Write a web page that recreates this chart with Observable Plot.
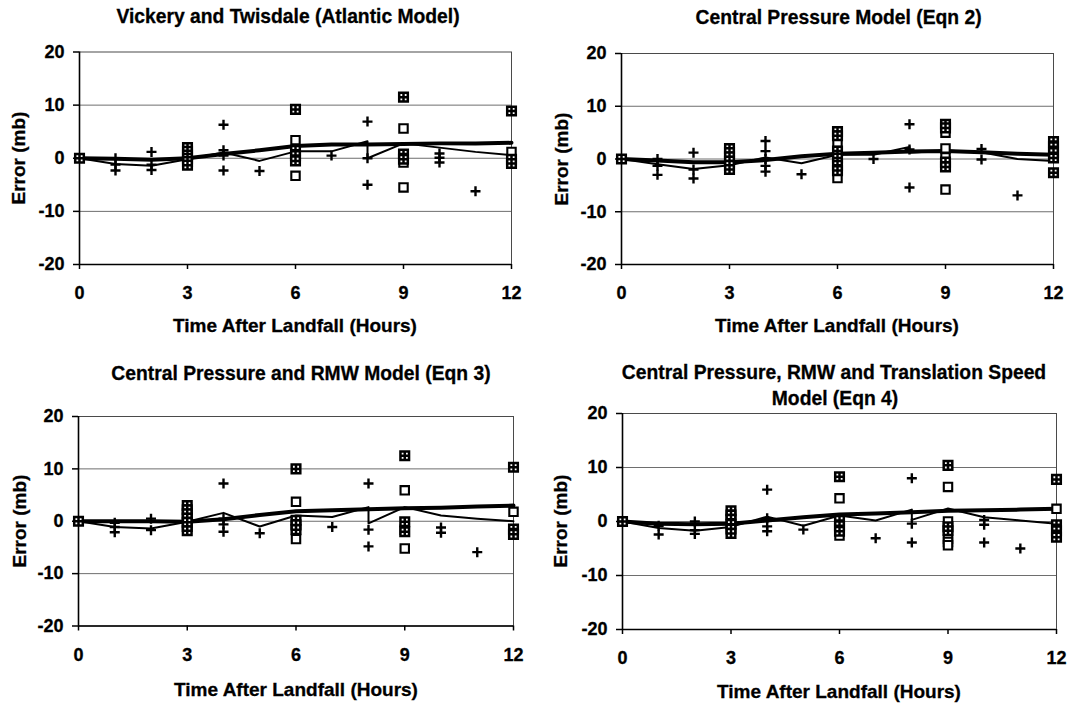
<!DOCTYPE html>
<html><head><meta charset="utf-8">
<script src="https://cdn.jsdelivr.net/npm/d3@7"></script>
<script src="https://cdn.jsdelivr.net/npm/@observablehq/plot@0.6"></script>
<style>
body{margin:0;background:#fff;}
#root{position:relative;width:1070px;height:703px;overflow:hidden;background:#fff;font-family:"Liberation Sans",Arial,sans-serif;font-weight:bold;color:#000;}
.panel{position:absolute;}
.t{position:absolute;white-space:nowrap;transform:translate(-50%,-50%);line-height:1;-webkit-text-stroke:0.3px #000;}
.yt{transform:translate(-50%,-50%) rotate(-90deg);}
.panel svg text{stroke:#000;stroke-width:0.3px;}
</style></head><body><div id="root"></div>
<script>
// ---------- data ----------
const hours = [0,1,2,3,4,5,6,7,8,9,10,11,12];
const thinHours = [0,1,2,3,4,5,6,7,8,8,9,10,11,12];
const xDomain = [0,12];
const yDomain = [-20,20];
const xTicks = [0,3,6,9,12];
const yTicks = [-20,-10,0,10,20];
const gridTicks = [-10,0,10];
const titles = [
  ["Vickery and Twisdale (Atlantic Model)"],
  ["Central Pressure Model (Eqn 2)"],
  ["Central Pressure and RMW Model (Eqn 3)"],
  ["Central Pressure, RMW and Translation Speed","Model (Eqn 4)"]
];
const xTitle = "Time After Landfall (Hours)";
const yTitle = "Error (mb)";

// Panel 1: Vickery and Twisdale
const vtThick = [0,-0.1,-0.3,0,0.8,1.5,2.3,2.6,2.6,2.7,2.8,2.8,2.9];
const vtThin  = [0,-1.1,-1.4,-0.2,1.1,-0.5,1.3,1.3,3.2,0,2.8,2.0,1.2,0.6];
const vtCross = [[1,0],[1,-1.2],[1,-2.3],[2,1.2],[2,-1.2],[2,-2.2],[4,6.3],[4,1.5],[4,0.5],[4,-2.3],[5,-2.4],[7,0.5],[8,6.9],[8,0],[8,-5.0],[10,0.9],[10,0.1],[10,-0.8],[11,-6.2]];
const vtOpen  = [[6,3.4],[6,-3.3],[9,5.6],[9,-0.8],[9,-5.5],[12,1.2]];
const vtGrid  = [[0,0],[3,2.0],[3,1.3],[3,0.6],[3,0],[3,-0.6],[3,-1.3],[6,9.2],[6,1.5],[6,0.5],[6,-0.5],[9,11.5],[9,0.8],[9,-0.2],[12,8.9],[12,-0.2],[12,-1.0]];

// Panel 2: Central Pressure (Eqn 2)
const cpThick = [0,-0.3,-0.6,-0.6,-0.2,0.5,1.0,1.2,1.4,1.5,1.3,1.0,0.8];
const cpThin  = [0,-1.0,-1.9,-1.2,0.3,-0.8,0.8,0.8,2.3,1.2,1.6,1.3,0,-0.4];
const cpCross = [[1,0],[1,-1.3],[1,-3.0],[2,1.2],[2,-2.0],[2,-3.7],[4,3.4],[4,1.5],[4,0],[4,-1.3],[4,-2.4],[5,-2.9],[7,0],[8,6.6],[8,1.8],[8,-5.4],[10,1.9],[10,-0.1],[11,-6.9]];
const cpOpen  = [[6,3.1],[6,-3.6],[9,5.0],[9,2.0],[9,0.3],[9,-5.8],[12,0.6]];
const cpGrid  = [[0,0],[3,2.0],[3,1.2],[3,0.4],[3,-0.4],[3,-1.2],[3,-2.0],[6,5.2],[6,4.4],[6,1.5],[6,0.2],[6,-1.2],[6,-2.2],[9,6.6],[9,5.9],[9,-0.6],[9,-1.5],[12,3.3],[12,2.3],[12,1.2],[12,0.2],[12,-2.6]];

// Panel 3: Central Pressure and RMW (Eqn 3)
const rmThick = [0,0,0,-0.1,0.4,1.2,1.9,2.1,2.3,2.5,2.6,2.8,3.0];
const rmThin  = [0,-1.1,-1.4,-0.1,1.6,-1.0,1.1,0.8,2.7,-0.4,2.7,1.1,0.5,0];
const rmCross = [[1,-0.3],[1,-1.1],[1,-2.1],[2,0.5],[2,-1.7],[4,7.2],[4,0.5],[4,-0.6],[4,-2.0],[5,-2.3],[7,-1.1],[8,7.2],[8,-1.6],[8,-4.8],[10,-1.2],[10,-2.2],[11,-5.9]];
const rmOpen  = [[6,3.7],[6,-3.4],[9,5.9],[9,-1.6],[9,-5.2],[12,1.8]];
const rmGrid  = [[0,0],[3,3.0],[3,2.2],[3,1.4],[3,0.6],[3,-0.2],[3,-1.0],[3,-1.8],[6,10.0],[6,0.2],[6,-0.7],[6,-1.6],[9,12.5],[9,-0.1],[9,-2.0],[12,10.3],[12,-1.5],[12,-2.5]];

// Panel 4: Central Pressure, RMW and Translation Speed (Eqn 4)
const tsThick = [0,-0.4,-0.5,-0.4,0.2,0.8,1.3,1.5,1.7,2.0,2.1,2.2,2.35];
const tsThin  = [0,-1.2,-1.7,-1.0,0.9,-0.8,1.1,0.2,2.2,0.3,2.4,0.8,0.2,-0.4];
const tsCross = [[1,-0.8],[1,-2.4],[2,0],[2,-1.6],[2,-2.3],[4,5.9],[4,0.6],[4,-0.9],[4,-1.8],[5,-1.5],[7,-3.1],[8,8.0],[8,-0.4],[8,-3.9],[10,0.3],[10,-0.6],[10,-3.9],[11,-5.0]];
const tsOpen  = [[6,4.3],[6,-2.6],[9,6.4],[9,0],[9,-3.2],[9,-3.8],[9,-4.4],[12,2.35]];
const tsGrid  = [[0,0],[3,2.0],[3,1.2],[3,0.4],[3,-0.5],[3,-1.4],[3,-2.2],[6,8.3],[6,0.2],[6,-0.8],[6,-1.8],[9,10.4],[9,-1.0],[9,-1.7],[12,7.8],[12,-0.6],[12,-1.7],[12,-2.9]];

const panelData = [
  {thick: vtThick, thin: vtThin, cross: vtCross, open: vtOpen, grid: vtGrid},
  {thick: cpThick, thin: cpThin, cross: cpCross, open: cpOpen, grid: cpGrid},
  {thick: rmThick, thin: rmThin, cross: rmCross, open: rmOpen, grid: rmGrid},
  {thick: tsThick, thin: tsThin, cross: tsCross, open: tsOpen, grid: tsGrid}
];

// ---------- layout ----------
const layout = [
  {left:0,   top:0,   w:535, h:310, ml:79, mr:24, mt:51.5, mb:46,  title:[[288,17]],            xt:[295,325], yt:[18.3,158]},
  {left:535, top:0,   w:535, h:310, ml:86, mr:17, mt:53,   mb:46,  title:[[838.6,18]],          xt:[837,325], yt:[560.6,158.5]},
  {left:0,   top:351, w:535, h:320, ml:78, mr:22, mt:65,   mb:45.5,title:[[301,374.3]],         xt:[296,689], yt:[18.8,521]},
  {left:535, top:351, w:535, h:325, ml:87, mr:14, mt:62,   mb:47,  title:[[834,372.7],[835,399.3]], xt:[839,691], yt:[560,521]}
];

// ---------- symbols ----------
const rad = s => Math.sqrt(s / Math.PI);
const symCross = {draw(c, s){const r = rad(s); c.moveTo(-r,0); c.lineTo(r,0); c.moveTo(0,-r); c.lineTo(0,r);}};
const symSquare = {draw(c, s){const r = rad(s); c.moveTo(-r,-r); c.lineTo(r,-r); c.lineTo(r,r); c.lineTo(-r,r); c.closePath();}};
const symGrid = {draw(c, s){const r = rad(s); c.moveTo(-r,-r); c.lineTo(r,-r); c.lineTo(r,r); c.lineTo(-r,r); c.closePath(); c.moveTo(-r,0); c.lineTo(r,0); c.moveTo(0,-r); c.lineTo(0,r);}};

const root = document.getElementById("root");
const pts = a => a.map(([h, v]) => ({h, v}));

panelData.forEach((d, k) => {
  const L = layout[k];
  const thick = hours.map((h, i) => ({h, v: d.thick[i]}));
  const thin = thinHours.map((h, i) => ({h, v: d.thin[i]}));
  const svg = Plot.plot({
    width: L.w, height: L.h,
    marginLeft: L.ml, marginRight: L.mr, marginTop: L.mt, marginBottom: L.mb,
    style: {fontFamily: "'Liberation Sans', Arial, sans-serif", fontSize: "18px", fontWeight: "bold", color: "#000", background: "transparent", overflow: "visible"},
    x: {domain: xDomain},
    y: {domain: yDomain},
    marks: [
      Plot.frame({stroke: "#4a4a4a", strokeWidth: 1}),
      Plot.gridY({ticks: gridTicks, stroke: "#6e6e6e", strokeOpacity: 1, strokeWidth: 1}),
      Plot.line(thick, {x: "h", y: "v", stroke: "#000", strokeWidth: 4}),
      Plot.line(thin, {x: "h", y: "v", stroke: "#000", strokeWidth: 2}),
      Plot.ruleX([xDomain[0]], {stroke: "#000", strokeWidth: 1.6}),
      Plot.ruleY([yDomain[0]], {stroke: "#000", strokeWidth: 1.6}),
      Plot.dot(pts(d.cross), {x: "h", y: "v", symbol: symCross, r: 5, fill: "none", stroke: "#000", strokeWidth: 2.4}),
      Plot.dot(pts(d.open), {x: "h", y: "v", symbol: symSquare, r: 4.2, fill: "#fff", stroke: "#000", strokeWidth: 2.1}),
      Plot.dot(pts(d.grid), {x: "h", y: "v", symbol: symGrid, r: 4.3, fill: "#fff", stroke: "#000", strokeWidth: 2.5}),
      Plot.axisX({ticks: xTicks, tickSize: 5, tickPadding: 17, label: null, tickFormat: v => String(v), stroke: "#000", strokeWidth: 1.5}),
      Plot.axisY({ticks: yTicks, tickSize: 6, tickPadding: 9, label: null, tickFormat: v => String(v), stroke: "#000", strokeWidth: 1.5})
    ]
  });
  const wrap = document.createElement("div");
  wrap.className = "panel";
  wrap.style.left = L.left + "px";
  wrap.style.top = L.top + "px";
  wrap.appendChild(svg);
  root.appendChild(wrap);

  titles[k].forEach((txt, j) => {
    const t = document.createElement("div");
    t.className = "t";
    t.style.fontSize = "19.3px";
    t.style.left = L.title[j][0] + "px";
    t.style.top = L.title[j][1] + "px";
    t.textContent = txt;
    root.appendChild(t);
  });
  const xt = document.createElement("div");
  xt.className = "t";
  xt.style.fontSize = "19px";
  xt.style.left = L.xt[0] + "px";
  xt.style.top = L.xt[1] + "px";
  xt.textContent = xTitle;
  root.appendChild(xt);
  const yt = document.createElement("div");
  yt.className = "t yt";
  yt.style.fontSize = "19px";
  yt.style.left = L.yt[0] + "px";
  yt.style.top = L.yt[1] + "px";
  yt.textContent = yTitle;
  root.appendChild(yt);
});
</script></body></html>
